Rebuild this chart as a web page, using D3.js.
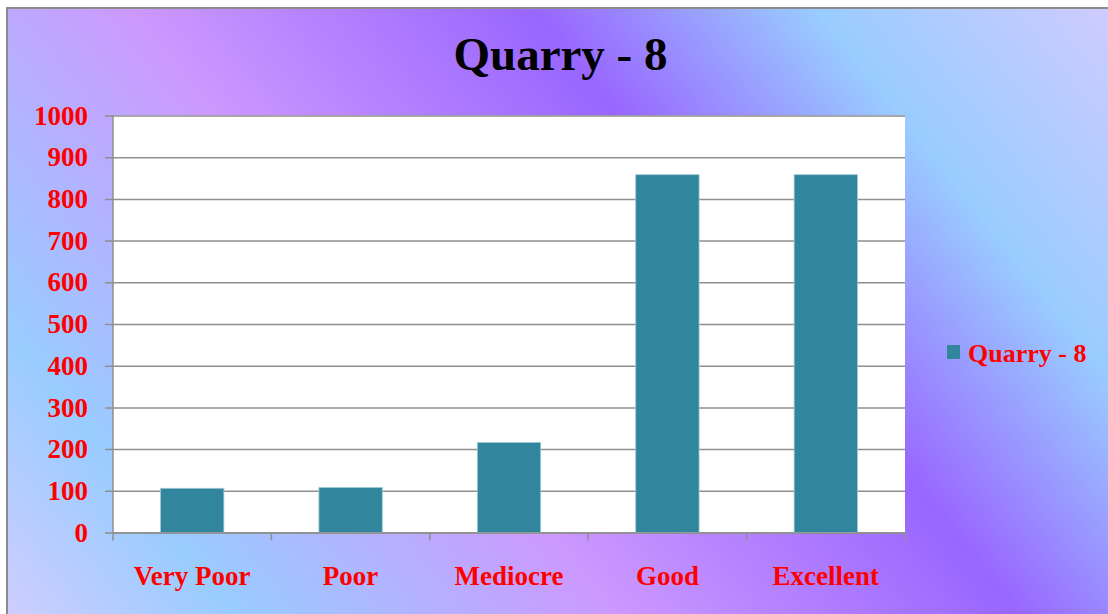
<script src="https://d3js.org/d3.v7.min.js"></script>
<body style="margin:0;background:#fff">
<script>
// chart data
var categories = ["Very Poor", "Poor", "Mediocre", "Good", "Excellent"];
var values = [106, 108, 216, 858, 858];
var seriesName = "Quarry - 8";
var yTicks = [0, 100, 200, 300, 400, 500, 600, 700, 800, 900, 1000];

var W = 1108, H = 614;
var margin = {top: 115.5, right: 203, bottom: 81.5, left: 113},
    width = W - margin.left - margin.right,
    height = H - margin.top - margin.bottom;

var svg = d3.select("body").append("svg")
    .attr("width", W)
    .attr("height", H)
    .style("display", "block");

// background gradient (diagonal, lower-left to upper-right)
var defs = svg.append("defs");
var grad = defs.append("linearGradient")
    .attr("id", "bg")
    .attr("gradientUnits", "userSpaceOnUse")
    .attr("x1", 74).attr("y1", 698)
    .attr("x2", 1035).attr("y2", -72);
[[0, "#cfcdff"], [0.145, "#99ccff"], [0.384, "#cc99ff"],
 [0.64, "#9966ff"], [0.819, "#99ccff"], [1, "#cdcbff"]].forEach(function(s) {
  grad.append("stop").attr("offset", s[0]).attr("stop-color", s[1]);
});

svg.append("rect")
    .attr("x", 7).attr("y", 8)
    .attr("width", W).attr("height", H)
    .attr("fill", "url(#bg)")
    .attr("stroke", "#8c8c8c")
    .attr("stroke-width", 2);

// title
svg.append("text")
    .attr("x", 560.5)
    .attr("y", 70)
    .attr("text-anchor", "middle")
    .style("font-family", "'Liberation Serif', 'Times New Roman', serif")
    .style("font-weight", "bold")
    .style("font-size", "47px")
    .text(seriesName);

var g = svg.append("g")
    .attr("transform", "translate(" + margin.left + "," + margin.top + ")");

// scales
var x = d3.scaleBand().domain(categories).range([0, width])
    .paddingInner(0.6).paddingOuter(0.3);
var xb = d3.scaleBand().domain(categories).range([0, width]);
var y = d3.scaleLinear().domain([0, 1000]).range([height, 0]);

// plot area
g.append("rect")
    .attr("width", width)
    .attr("height", height)
    .attr("fill", "#fff");

// gridlines + y axis
var yAxis = g.append("g")
    .call(d3.axisLeft(y).tickValues(yTicks).tickFormat(d3.format("d"))
      .tickSize(-width).tickSizeOuter(0).tickPadding(25));
yAxis.select(".domain").remove();
yAxis.selectAll(".tick line")
    .attr("stroke", "#8f8f8f")
    .attr("stroke-width", 1.5)
    .attr("x1", -8);
yAxis.selectAll(".tick text")
    .attr("fill", "#ff0000")
    .style("font-family", "'Liberation Serif', 'Times New Roman', serif")
    .style("font-weight", "bold")
    .style("font-size", "27px");

g.append("line")
    .attr("x1", 0).attr("x2", 0)
    .attr("y1", 0).attr("y2", height)
    .attr("stroke", "#8f8f8f")
    .attr("stroke-width", 1.5);

// bars
g.selectAll(".bar")
    .data(values)
  .enter().append("rect")
    .attr("class", "bar")
    .attr("x", function(d, i) { return x(categories[i]); })
    .attr("width", x.bandwidth())
    .attr("y", function(d) { return y(d); })
    .attr("height", function(d) { return height - y(d); })
    .attr("fill", "#31859c")
    .attr("stroke", "#9fcbd8")
    .attr("stroke-width", 0.8);

// x axis
var xAxis = g.append("g")
    .attr("transform", "translate(0," + height + ")")
    .call(d3.axisBottom(xb).tickSize(0).tickPadding(33));
xAxis.select(".domain")
    .attr("stroke", "#8f8f8f")
    .attr("stroke-width", 1.5);
xAxis.selectAll(".tick text")
    .attr("fill", "#ff0000")
    .style("font-family", "'Liberation Serif', 'Times New Roman', serif")
    .style("font-weight", "bold")
    .style("font-size", "27px");
// category boundary ticks
xAxis.selectAll(".bound")
    .data(d3.range(categories.length + 1))
  .enter().append("line")
    .attr("class", "bound")
    .attr("x1", function(i) { return i * xb.step(); })
    .attr("x2", function(i) { return i * xb.step(); })
    .attr("y1", 0).attr("y2", 8)
    .attr("stroke", "#8f8f8f")
    .attr("stroke-width", 1.5);

// legend
var legend = svg.append("g").attr("transform", "translate(947,345)");
legend.append("rect")
    .attr("width", 13).attr("height", 14)
    .attr("fill", "#31859c");
legend.append("text")
    .attr("x", 21)
    .attr("y", 17)
    .attr("fill", "#ff0000")
    .style("font-family", "'Liberation Serif', 'Times New Roman', serif")
    .style("font-weight", "bold")
    .style("font-size", "26px")
    .text(seriesName);
</script>
</body>
